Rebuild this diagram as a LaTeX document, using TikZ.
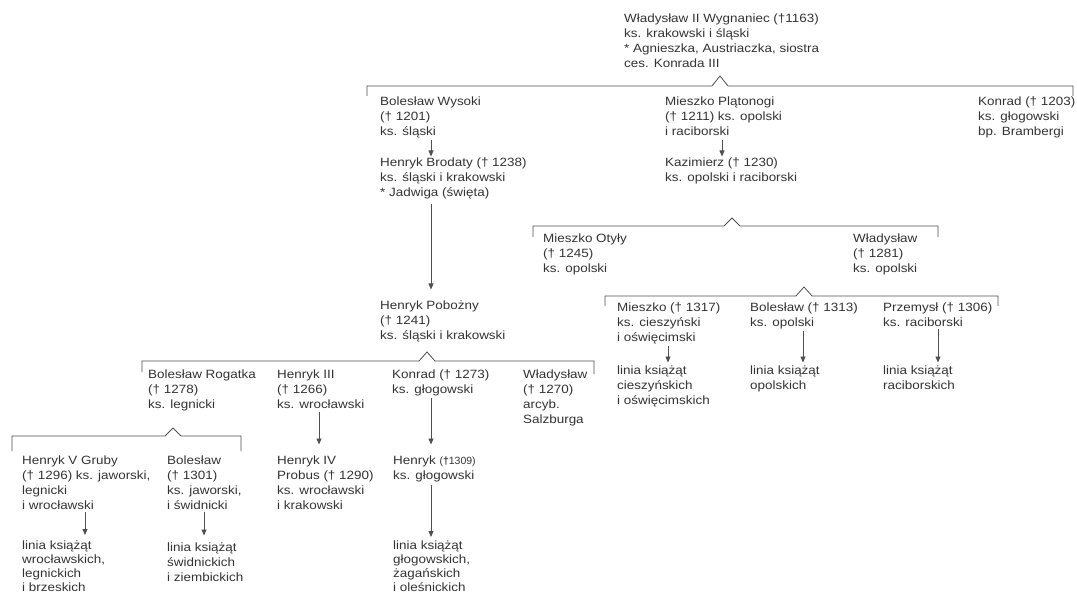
\documentclass[tikz,border=0pt]{standalone}
\usepackage{fontspec}
\setmainfont{Liberation Sans}[FakeStretch=1.12]
\newfontfamily\plainsans{Liberation Sans}
\usepackage{xcolor}
\usetikzlibrary{arrows.meta}
\definecolor{txtgray}{HTML}{333333}
\definecolor{linegray}{HTML}{505050}
\tikzset{
	person/.style={anchor=north west,align=left,inner sep=0pt,text=txtgray,
		font=\fontsize{12}{15}\selectfont},
	tightperson/.style={person,font=\fontsize{12}{14}\selectfont},
	descent/.style={->,draw=linegray,line width=0.8pt},
	kinbar/.style={draw=linegray,line width=0.8pt}
}

\begin{document}
\begin{tikzpicture}[x=1pt,y=-1pt,>={Triangle[length=6pt,width=5pt]}]
	\useasboundingbox (0,0) rectangle (1077,596);
	% generation 1
	\node [person] (wlad2) at (624,13.5) {W\l{}adys\l{}aw II Wygnaniec (\textdagger1163)\\ks. krakowski i \'sl\k{a}ski\\* Agnieszka, Austriaczka, siostra\\ces. Konrada III};
	% generation 2
	\node [person] (bolwys) at (380,96.5) {Boles\l{}aw Wysoki\\(\textdagger{} 1201)\\ks. \'sl\k{a}ski};
	\node [person] (mieplat) at (665,96.5) {Mieszko Pl\k{a}tonogi\\(\textdagger{} 1211) ks. opolski\\i raciborski};
	\node [person] (kon03) at (978,96.5) {Konrad (\textdagger{} 1203)\\ks. g\l{}ogowski\\bp. Brambergi};
	% generation 3
	\node [person] (henbro) at (380,157.5) {Henryk Brodaty (\textdagger{} 1238)\\ks. \'sl\k{a}ski i krakowski\\* Jadwiga (\'swi\k{e}ta)};
	\node [person] (kaz) at (665,157.5) {Kazimierz (\textdagger{} 1230)\\ks. opolski i raciborski};
	% generation 4
	\node [person] (henpob) at (380,300.5) {Henryk Pobo\.zny\\(\textdagger{} 1241)\\ks. \'sl\k{a}ski i krakowski};
	\node [person] (mieoty) at (543,233.5) {Mieszko Oty\l{}y\\(\textdagger{} 1245)\\ks. opolski};
	\node [person] (wlad81) at (853,233.5) {W\l{}adys\l{}aw\\(\textdagger{} 1281)\\ks. opolski};
	% generation 5
	\node [person] (bolrog) at (148,369.5) {Boles\l{}aw Rogatka\\(\textdagger{} 1278)\\ks. legnicki};
	\node [person] (hen3) at (277,369.5) {Henryk III\\(\textdagger{} 1266)\\ks. wroc\l{}awski};
	\node [person] (kon73) at (392,369.5) {Konrad (\textdagger{} 1273)\\ks. g\l{}ogowski};
	\node [person] (wlad70) at (523,369.5) {W\l{}adys\l{}aw\\(\textdagger{} 1270)\\arcyb.\\Salzburga};
	\node [person] (mie17) at (617,302.5) {Mieszko (\textdagger{} 1317)\\ks. cieszy\'nski\\i o\'swi\k{e}cimski};
	\node [person] (bol13) at (750,302.5) {Boles\l{}aw (\textdagger{} 1313)\\ks. opolski};
	\node [person] (prz06) at (883,302.5) {Przemys\l{} (\textdagger{} 1306)\\ks. raciborski};
	% generation 6
	\node [person] (hen5) at (22,455.5) {Henryk V Gruby\\(\textdagger{} 1296) ks. jaworski,\\legnicki\\i wroc\l{}awski};
	\node [person] (bol01) at (167,455.5) {Boles\l{}aw\\(\textdagger{} 1301)\\ks. jaworski,\\i \'swidnicki};
	\node [person] (hen4) at (277,455.5) {Henryk IV\\Probus (\textdagger{} 1290)\\ks. wroc\l{}awski\\i krakowski};
	\node [person] (hengl) at (393,455.5) {Henryk {\plainsans\fontsize{10.5}{15}\selectfont(\textbf{\textdagger}1309)}\\ks. g\l{}ogowski};
	% lines of dukes
	\node [person] (lincie) at (617,365.5) {linia ksi\k{a}\.z\k{a}t\\cieszy\'nskich\\i o\'swi\k{e}cimskich};
	\node [person] (linopo) at (750,365.5) {linia ksi\k{a}\.z\k{a}t\\opolskich};
	\node [person] (linrac) at (883,365.5) {linia ksi\k{a}\.z\k{a}t\\raciborskich};
	\node [tightperson] (linwro) at (22,541) {linia ksi\k{a}\.z\k{a}t\\wroc\l{}awskich,\\legnickich\\i brzeskich};
	\node [person] (linswi) at (167,542.5) {linia ksi\k{a}\.z\k{a}t\\\'swidnickich\\i ziembickich};
	\node [tightperson] (linglo) at (393,541) {linia ksi\k{a}\.z\k{a}t\\g\l{}ogowskich,\\\.zaga\'nskich\\i ole\'snickich};

	% sibling bars
	\draw [kinbar] (367,96) -- (367,86) -- (712,86) -- (720,76) -- (728,86) -- (1073,86) -- (1073,96);
	\draw [kinbar] (533,237) -- (533,226) -- (724,226) -- (732,218) -- (740,226) -- (938,226) -- (938,237);
	\draw [kinbar] (605,306) -- (605,296) -- (796,296) -- (804,287) -- (812,296) -- (998,296) -- (998,306);
	\draw [kinbar] (142,372) -- (142,361) -- (419,361) -- (427,352) -- (435,361) -- (594,361) -- (594,374);
	\draw [kinbar] (12,451) -- (12,436) -- (165,436) -- (173,428) -- (181,436) -- (241,436) -- (241,451);

	% descent arrows
	\draw [descent] ([xshift=51pt,yshift=-2pt]bolwys.south west) -- ([xshift=51pt,yshift=1pt]henbro.north west);
	\draw [descent] ([xshift=51pt,yshift=-5pt]henbro.south west) -- ([xshift=51pt,yshift=11pt]henpob.north west);
	\draw [descent] ([xshift=57pt,yshift=-4pt]mieplat.south west) -- ([xshift=57pt,yshift=1pt]kaz.north west);
	\draw [descent] ([xshift=42pt,yshift=-3pt]hen3.south west) -- ([xshift=42pt,yshift=11pt]hen4.north west);
	\draw [descent] ([xshift=39pt,yshift=-2pt]kon73.south west) -- ([xshift=38pt,yshift=11pt]hengl.north west);
	\draw [descent] ([xshift=38pt,yshift=-3pt]hengl.south west) -- ([xshift=38pt,yshift=4pt]linglo.north west);
	\draw [descent] ([xshift=63pt,yshift=-2pt]hen5.south west) -- ([xshift=63pt,yshift=6pt]linwro.north west);
	\draw [descent] ([xshift=37pt,yshift=-2pt]bol01.south west) -- ([xshift=37pt,yshift=7pt]linswi.north west);
	\draw [descent] ([xshift=51pt,yshift=-2pt]mie17.south west) -- ([xshift=51pt,yshift=3pt]lincie.north west);
	\draw [descent] ([xshift=53pt,yshift=-2pt]bol13.south west) -- ([xshift=53pt,yshift=3pt]linopo.north west);
	\draw [descent] ([xshift=55pt,yshift=-2pt]prz06.south west) -- ([xshift=55pt,yshift=3pt]linrac.north west);
\end{tikzpicture}
\end{document}
